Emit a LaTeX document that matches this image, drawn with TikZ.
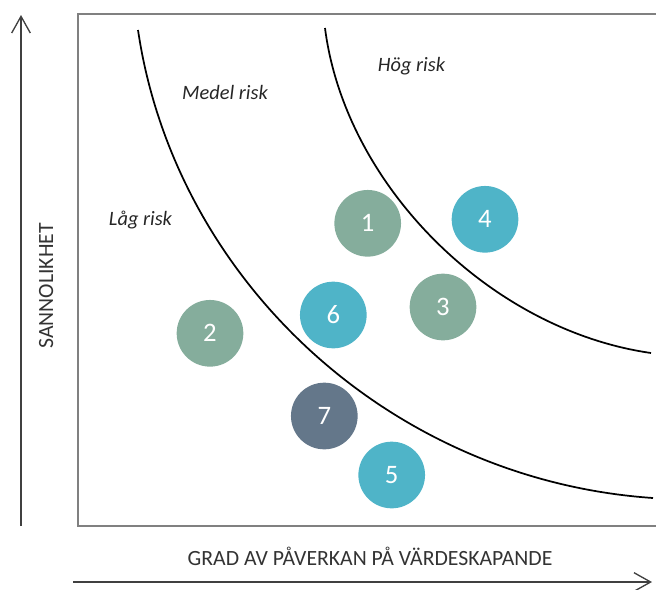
\documentclass[tikz,border=0pt]{standalone}
\usepackage{fontspec}
\setmainfont{Carlito}
\usetikzlibrary{arrows.meta}
\definecolor{cgreen}{HTML}{85AD9C}
\definecolor{cblue}{HTML}{4FB4C8}
\definecolor{cslate}{HTML}{64778A}
\definecolor{axisc}{HTML}{404040}
\definecolor{framec}{HTML}{808080}
\tikzset{
  riskdot/.style={circle, minimum size=50pt, inner sep=0pt, text=white, font=\fontsize{20}{24}\selectfont},
  riskcurve/.style={line width=1.3pt, black},
  risklabel/.style={font=\fontsize{15.3}{18}\selectfont\itshape, text=black!85, anchor=base},
  axislabel/.style={font=\fontsize{16.3}{19}\selectfont, text=black!80},
  axisarrow/.style={line width=1.1pt, axisc, -{Straight Barb[length=12.5pt, width=14pt, line width=1pt]}}
}
\begin{document}
\begin{tikzpicture}[x=0.75pt, y=-0.75pt]
\useasboundingbox (0,0) rectangle (656,589);
% frame
\draw[framec, line width=1.1pt] (656,14) -- (78,14) -- (78,526) -- (656,526);
% axes
\coordinate (ybot) at (21,526);
\coordinate (ytop) at (21,15);
\coordinate (xl) at (73,582);
\coordinate (xr) at (652,582);
\draw[axisarrow] (ybot) -- (ytop);
\draw[axisarrow] (xl) -- (xr);
% curves
\coordinate (c1s) at (138,30);
\coordinate (c1e) at (653,498);
\coordinate (c2s) at (325,28);
\coordinate (c2e) at (651,353);
\draw[riskcurve] (c1s) .. controls (175,280) and (390,480) .. (c1e);
\draw[riskcurve] (c2s) .. controls (345,185) and (490,330) .. (c2e);
% labels
\node[risklabel] (medel) at (225,99) {Medel risk};
\node[risklabel] (hog) at (411.5,71.7) {Hög risk};
\node[risklabel] (lag) at (140.5,225) {Låg risk};
\node[axislabel, anchor=base] (xlab) at (370,565.7) {GRAD AV PÅVERKAN PÅ VÄRDESKAPANDE};
\node[axislabel, anchor=base, rotate=90] (ylab) at (53,286) {SANNOLIKHET};
% dots
\node[riskdot, fill=cgreen] (d1) at (367.7,223.3) {1};
\node[riskdot, fill=cgreen] (d2) at (210,333.3) {2};
\node[riskdot, fill=cgreen] (d3) at (443,307) {3};
\node[riskdot, fill=cblue] (d4) at (485,219.3) {4};
\node[riskdot, fill=cblue] (d5) at (391.7,475) {5};
\node[riskdot, fill=cblue] (d6) at (333.3,315) {6};
\node[riskdot, fill=cslate] (d7) at (324.3,416) {7};
\end{tikzpicture}
\end{document}
